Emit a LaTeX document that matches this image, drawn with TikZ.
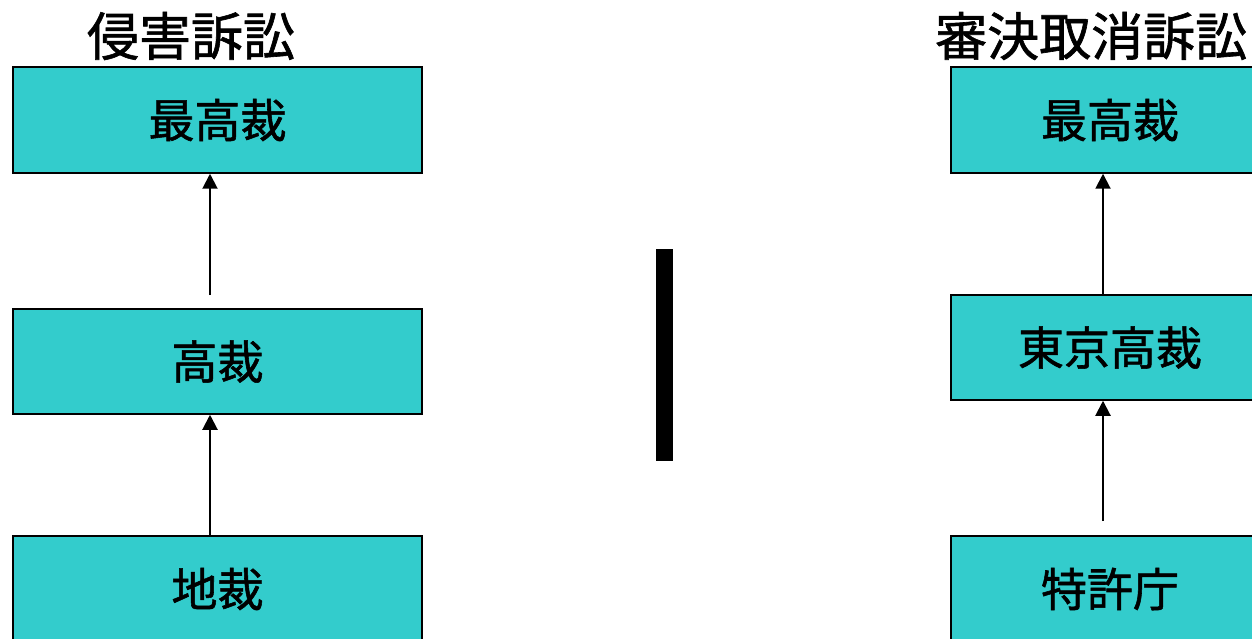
\documentclass[tikz,border=0pt]{standalone}
\usepackage{fontspec}
\newfontfamily\jp[FakeBold=1.2]{Noto Sans CJK JP}
\usetikzlibrary{arrows.meta}
\definecolor{boxteal}{HTML}{33CCCC}
\tikzset{
  court/.style={draw=black, line width=1.5pt, fill=boxteal, inner sep=0pt,
    font=\jp\fontsize{46}{50}\selectfont},
  title/.style={inner sep=0pt, font=\jp\fontsize{52}{56}\selectfont},
  arr/.style={line width=2pt, -{Triangle[width=15pt,length=15pt]}}
}
\begin{document}
\begin{tikzpicture}[x=1pt,y=-1pt]
\useasboundingbox (0,0) rectangle (1252,639);
\clip (0,0) rectangle (1252,639);
% left column
\node[title] (t1) at (191,36) {侵害訴訟};
\node[court, minimum width=409pt, minimum height=106pt] (l1) at (217.5,120) {最高裁};
\node[court, minimum width=409pt, minimum height=105pt] (l2) at (217.5,361.5) {高裁};
\node[court, minimum width=409pt, minimum height=106pt] (l3) at (217.5,589) {地裁};
\coordinate (la) at (210,295);
\draw[arr] (la) -- (la |- l1.south);
\draw[arr] (la |- l3.north) -- (la |- l2.south);
% divider
\fill[black] (656,249) rectangle (673,461);
% right column
\node[title, anchor=west] (t2) at (935,36) {審決取消訴訟};
\node[court, minimum width=318pt, minimum height=106pt] (r1) at (1110,120) {最高裁};
\node[court, minimum width=318pt, minimum height=105pt] (r2) at (1110,347.5) {東京高裁};
\node[court, minimum width=318pt, minimum height=106pt] (r3) at (1110,589) {特許庁};
\coordinate (ra) at (1103,521);
\draw[arr] (ra |- r2.north) -- (ra |- r1.south);
\draw[arr] (ra) -- (ra |- r2.south);
\end{tikzpicture}
\end{document}
